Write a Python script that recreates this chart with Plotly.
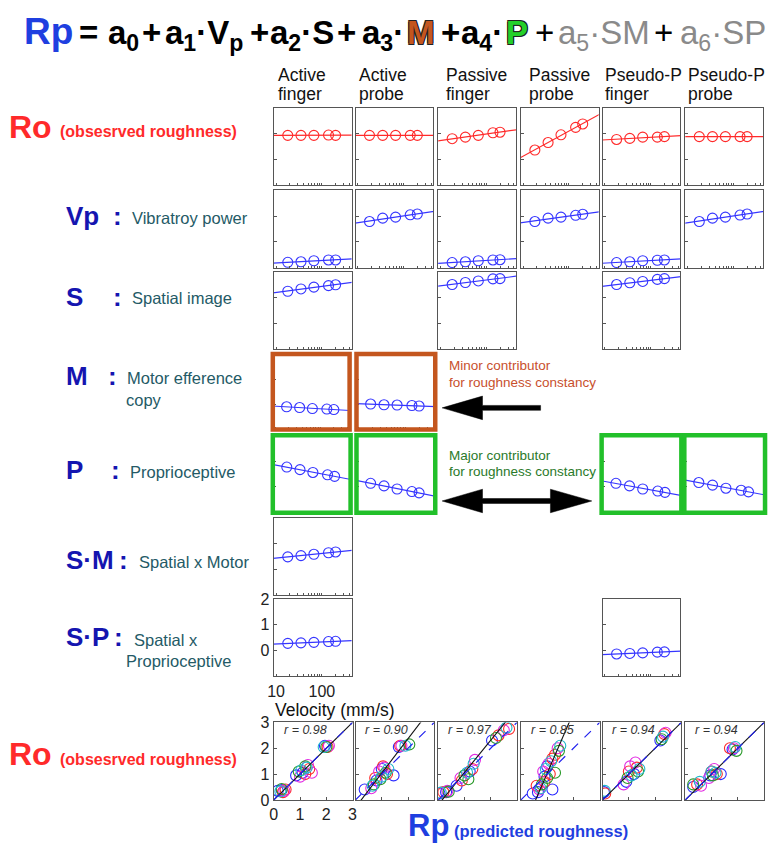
import plotly.graph_objects as go
import numpy as np

W, H = 773, 853
FONT = "Liberation Sans, Arial, sans-serif"

# ---------------- data ----------------
velocity = [18, 35, 67, 140, 200]          # mm/s
conditions_top = ["Active", "Active", "Passive", "Passive", "Pseudo-P", "Pseudo-P"]
conditions_bottom = ["finger", "probe", "finger", "probe", "finger", "probe"]

# observed roughness vs velocity (row "Ro")
ro_row = [
    [0.94, 0.94, 0.94, 0.95, 0.94],
    [0.94, 0.94, 0.94, 0.94, 0.94],
    [0.81, 0.87, 0.94, 1.04, 1.06],
    [0.37, 0.66, 0.96, 1.25, 1.38],
    [0.78, 0.82, 0.87, 0.87, 0.89],
    [0.89, 0.89, 0.89, 0.89, 0.89],
]
# regressors vs velocity (None = not in the model for that condition)
vp_row = [
    [-0.79, -0.77, -0.73, -0.70, -0.70],
    [0.79, 0.92, 0.96, 1.05, 1.08],
    [-0.80, -0.77, -0.73, -0.70, -0.69],
    [0.79, 0.92, 0.96, 1.03, 1.07],
    [-0.80, -0.77, -0.73, -0.71, -0.70],
    [0.79, 0.92, 0.96, 1.04, 1.08],
]
s_row = [[1.24, 1.33, 1.40, 1.46, 1.49], None, [1.50, 1.58, 1.64, 1.72, 1.73], None,
         [1.50, 1.57, 1.62, 1.70, 1.73], None]
m_row = [[-0.10, -0.13, -0.17, -0.19, -0.21], [0.01, -0.02, -0.03, -0.05, -0.07],
         None, None, None, None]
p_row = [[0.77, 0.67, 0.56, 0.47, 0.41], [0.14, 0.04, -0.08, -0.18, -0.23], None, None,
         [0.14, 0.04, -0.08, -0.16, -0.21], [0.17, 0.07, -0.05, -0.13, -0.19]]
sm_row = [[0.48, 0.53, 0.58, 0.64, 0.67], None, None, None, None, None]
sp_row = [[0.28, 0.30, 0.32, 0.35, 0.36], None, None, None,
          [-0.13, -0.11, -0.09, -0.06, -0.05], None]

# predicted (x) vs observed (y) roughness, by subject colour
scatter_active_finger = {
    "blue": ([0.15, 0.30, 0.85, 1.10, 1.95], [0.35, 0.38, 0.95, 1.05, 2.10]),
    "red": ([0.35, 0.45, 1.20, 1.35, 2.05], [0.30, 0.40, 1.00, 1.20, 2.05]),
    "magenta": ([0.40, 1.00, 1.30, 1.45, 2.10], [0.35, 0.90, 1.35, 1.05, 2.10]),
    "green": ([0.30, 0.95, 1.20, 2.00], [0.42, 1.10, 1.30, 2.05]),
    "cyan": ([0.25, 1.05, 1.25, 1.90], [0.33, 1.15, 1.25, 2.05]),
}
scatter_active_probe = {
    "blue": ([0.35, 0.80, 1.00, 1.45, 1.65], [0.40, 0.75, 1.20, 0.95, 2.05]),
    "red": ([0.75, 1.05, 1.20, 1.70], [0.85, 1.30, 1.00, 2.10]),
    "magenta": ([0.60, 0.90, 1.10, 1.75], [0.45, 1.10, 1.25, 2.10]),
    "green": ([0.70, 0.95, 1.15, 2.05], [0.60, 0.80, 1.05, 2.15]),
    "cyan": ([0.65, 1.00, 1.25, 1.90], [0.55, 0.90, 1.20, 2.10]),
}
scatter_passive_finger = {
    "blue": ([0.05, 0.30, 0.70, 1.20, 2.05], [0.25, 0.30, 0.55, 1.10, 2.30]),
    "red": ([0.20, 0.90, 1.30, 2.30, 2.70], [0.30, 0.75, 1.20, 2.50, 2.75]),
    "magenta": ([0.35, 0.85, 1.40, 2.50], [0.35, 0.85, 1.55, 2.70]),
    "green": ([0.40, 1.00, 1.15, 2.20], [0.32, 0.95, 0.80, 2.40]),
    "cyan": ([0.10, 1.10, 1.35, 2.60], [0.28, 1.05, 1.40, 2.80]),
}
scatter_passive_probe = {
    "blue": ([0.45, 0.65, 1.20, 0.90, 1.00], [0.25, 0.30, 0.40, 0.90, 1.30]),
    "red": ([0.60, 0.90, 1.10, 1.20, 1.30], [0.55, 0.70, 1.00, 1.60, 1.75]),
    "magenta": ([0.70, 0.85, 1.05, 1.40], [0.40, 1.10, 1.40, 2.00]),
    "green": ([0.80, 1.00, 1.30, 1.45], [0.60, 0.85, 1.05, 1.90]),
    "cyan": ([0.75, 0.95, 1.15, 1.50], [0.45, 1.20, 1.50, 2.10]),
}
scatter_pseudo_finger = {
    "blue": ([0.05, 0.90, 1.20, 2.20], [0.30, 0.70, 1.00, 2.30]),
    "red": ([0.10, 1.00, 1.30, 2.35], [0.25, 1.10, 1.25, 2.55]),
    "magenta": ([0.80, 1.05, 1.25, 2.40], [0.60, 1.30, 1.45, 2.60]),
    "green": ([0.95, 1.35, 2.25], [0.85, 1.10, 2.35]),
    "cyan": ([0.08, 1.10, 1.40, 2.30], [0.35, 0.95, 1.20, 2.45]),
}
scatter_pseudo_probe = {
    "blue": ([0.30, 0.95, 1.35, 1.80], [0.50, 0.95, 1.00, 1.95]),
    "red": ([0.45, 1.00, 1.20, 1.70], [0.60, 1.10, 1.00, 2.00]),
    "magenta": ([0.60, 0.90, 1.10, 1.85], [0.55, 0.85, 1.20, 2.00]),
    "green": ([0.30, 1.05, 1.95], [0.60, 0.95, 1.90]),
    "cyan": ([0.55, 1.15, 1.00, 1.90], [0.70, 1.05, 1.10, 2.05]),
}
scatter_sets = [scatter_active_finger, scatter_active_probe, scatter_passive_finger,
                scatter_passive_probe, scatter_pseudo_finger, scatter_pseudo_probe]
r_values = [0.98, 0.90, 0.97, 0.85, 0.94, 0.94]
fit_slope = [1.00, 1.33, 1.25, 2.35, 1.00, 1.00]
fit_intercept = [0.00, -0.29, -0.19, -1.32, 0.00, 0.00]

# ---------------- styling / layout ----------------
SUBJ_COL = {"blue": "#2a2aff", "red": "#ff2a2a", "magenta": "#e22ae2",
            "green": "#2a9a2a", "cyan": "#22b8cc"}
RED = "#ff2a2a"
BLUE = "#3535ff"
ORANGE = "#c4561e"
GREEN = "#22c02a"
FRAME = "#555555"

col_left = [271, 354, 438, 522, 605, 689]
PW = 79
row_top = {"ro": 102, "vp": 186, "s": 269, "m": 352, "p": 436, "sm": 520, "sp": 603, "sc": 729}

fig = go.Figure()
axis_n = [0]


def px(x):
    return x / W


def py(y):
    return 1 - y / H


def new_axes(x0, x1, y0, y1, xcfg, ycfg):
    axis_n[0] += 1
    n = axis_n[0]
    s = "" if n == 1 else str(n)
    fig.update_layout(**{
        "xaxis" + s: dict(domain=[px(x0), px(x1)], anchor="y" + s, **xcfg),
        "yaxis" + s: dict(domain=[py(y1), py(y0)], anchor="x" + s, **ycfg),
    })
    return "x" + s, "y" + s


LOGR = [0.95, 2.65]
major_vals = [10, 100]
minor_vals = [20, 30, 40, 50, 60, 70, 80, 90, 200, 300, 400]


def vel_panel(values, color, x0, x1, y0, y1, frame=True, labels=False):
    xcfg = dict(type="log", range=LOGR, showgrid=False, zeroline=False,
                showline=frame, linecolor=FRAME, linewidth=1.2, mirror=True,
                ticks="inside", ticklen=2, tickcolor=FRAME, tickvals=major_vals,
                ticktext=[str(v) for v in major_vals], tickangle=0,
                minor=dict(tickvals=minor_vals, ticks="inside", ticklen=2,
                           tickcolor=FRAME, showgrid=False),
                showticklabels=labels,
                tickfont=dict(size=16, color="#222", family=FONT))
    ycfg = dict(range=[-1, 2], showgrid=False, zeroline=False,
                showline=frame, linecolor=FRAME, linewidth=1.2, mirror=True,
                ticks="inside", ticklen=3, tickcolor=FRAME,
                tickvals=[0, 1, 2] if labels else [0, 1], showticklabels=labels,
                tickfont=dict(size=16, color="#222", family=FONT))
    xa, ya = new_axes(x0, x1, y0, y1, xcfg, ycfg)
    lv = np.log10(velocity)
    b, a = np.polyfit(lv, values, 1)
    xs = np.array([10 ** LOGR[0] * 0.9, 10 ** LOGR[1] * 1.1])
    fig.add_trace(go.Scatter(x=xs, y=a + b * np.log10(xs), mode="lines",
                             line=dict(color=color, width=1.2), xaxis=xa, yaxis=ya,
                             showlegend=False, hoverinfo="skip"))
    fig.add_trace(go.Scatter(x=velocity, y=values, mode="markers",
                             marker=dict(symbol="circle-open", size=10, color=color,
                                         line=dict(width=1.1)),
                             xaxis=xa, yaxis=ya, showlegend=False, cliponaxis=False))


# row Ro and plain regressor rows
for key, data, color in [("ro", ro_row, RED), ("vp", vp_row, BLUE), ("s", s_row, BLUE),
                         ("sm", sm_row, BLUE), ("sp", sp_row, BLUE)]:
    for c, vals in enumerate(data):
        if vals is None:
            continue
        t = row_top[key]
        vel_panel(vals, color, col_left[c], col_left[c] + PW, t, t + PW,
                  labels=(key == "sp" and c == 0))

# highlighted rows (thick coloured frames)
m_boxes = {0: (270, 348), 1: (355, 435)}
p_boxes = {0: (270, 349), 1: (355, 435), 4: (604, 685), 5: (688, 770)}
shapes = []
for c, vals in enumerate(m_row):
    if vals is None:
        continue
    x0, x1 = m_boxes[c]
    vel_panel(vals, BLUE, x0, x1, 353, 430, frame=False)
    shapes.append(dict(type="rect", xref="paper", yref="paper", x0=px(x0), x1=px(x1),
                       y0=py(430), y1=py(353), line=dict(color=ORANGE, width=4.5)))
for c, vals in enumerate(p_row):
    if vals is None:
        continue
    x0, x1 = p_boxes[c]
    vel_panel(vals, BLUE, x0, x1, 436, 515, frame=False)
    shapes.append(dict(type="rect", xref="paper", yref="paper", x0=px(x0), x1=px(x1),
                       y0=py(515), y1=py(436), line=dict(color=GREEN, width=4.5)))

# bottom scatter row
annotations = []
for c, sset in enumerate(scatter_sets):
    lab = (c == 0)
    x0 = col_left[c]
    t = row_top["sc"]
    cfg = dict(range=[0, 3], showgrid=False, zeroline=False, showline=True,
               linecolor=FRAME, linewidth=1.2, mirror=True, ticks="inside", ticklen=3,
               tickcolor=FRAME, tickvals=[0, 1, 2, 3], showticklabels=lab, tickangle=0,
               tickfont=dict(size=16, color="#222", family=FONT))
    xa, ya = new_axes(x0, x0 + PW + 1, t, t + 79, dict(cfg), dict(cfg))
    for name, (xs, ys) in sset.items():
        fig.add_trace(go.Scatter(x=xs, y=ys, mode="markers",
                                 marker=dict(symbol="circle-open", size=11,
                                             color=SUBJ_COL[name], line=dict(width=1.1)),
                                 xaxis=xa, yaxis=ya, showlegend=False))
    lx = np.array([-1.0, 4.0])
    fig.add_trace(go.Scatter(x=lx, y=fit_intercept[c] + fit_slope[c] * lx, mode="lines",
                             line=dict(color="#111", width=1.1), xaxis=xa, yaxis=ya,
                             showlegend=False, hoverinfo="skip"))
    fig.add_trace(go.Scatter(x=lx, y=lx, mode="lines",
                             line=dict(color="#2020ee", width=1.2, dash="dash"),
                             xaxis=xa, yaxis=ya, showlegend=False, hoverinfo="skip"))
    annotations.append(dict(text="<i>r = %.2f</i>" % r_values[c], xref="paper", yref="paper",
                            x=px(x0 + 8), y=py(737), xanchor="left", yanchor="middle",
                            showarrow=False, font=dict(size=12.5, color="#333", family=FONT)))


# ---------------- texts ----------------
def txt(s, x, y, size, color, anchor="left", bold=False, yanchor="middle", **kw):
    annotations.append(dict(text=("<b>%s</b>" % s) if bold else s, xref="paper", yref="paper",
                            x=px(x), y=py(y), xanchor=anchor, yanchor=yanchor,
                            showarrow=False, font=dict(size=size, color=color, family=FONT, **kw)))


# equation (top-anchored so sub-scripts don't shift the baseline)
EQ = 33
EQY = 4
OUTL = "-1px -1px 0 #222, 1px -1px 0 #222, -1px 1px 0 #222, 1px 1px 0 #222"
txt("Rp", 42, EQY - 3, 37, "#1f3fe0", "center", True, "top")
eq_tokens = [
    ("=", 83, "#000", True, None),
    ("a<sub>0</sub>", 118, "#000", True, None),
    ("+", 147, "#000", True, None),
    ("a<sub>1</sub>·V<sub>p</sub>", 200, "#000", True, None),
    ("+", 256, "#000", True, None),
    ("a<sub>2</sub>·S", 300, "#000", True, None),
    ("+", 345, "#000", True, None),
    ("a<sub>3</sub>·", 382, "#000", True, None),
    ("M", 421, ORANGE, True, OUTL),
    ("+", 450, "#000", True, None),
    ("a<sub>4</sub>·", 482, "#000", True, None),
    ("P", 518, "#22d02a", True, OUTL),
    ("+", 546, "#000", False, None),
    ("a<sub>5</sub>·SM", 606, "#8a8a8a", False, None),
    ("+", 667, "#000", False, None),
    ("a<sub>6</sub>·SP", 727, "#8a8a8a", False, None),
]
for s, cx, colr, bld, sh in eq_tokens:
    if sh:
        txt(s, cx, EQY, EQ, colr, "center", bld, "top", shadow=sh)
    else:
        txt(s, cx, EQY, EQ, colr, "center", bld, "top")

# column headers
hdr_x = [273, 356, 444, 528, 605, 690]
for c in range(6):
    txt(conditions_top[c], hdr_x[c], 68.5, 17.5, "#111")
    txt(conditions_bottom[c], hdr_x[c], 88, 17.5, "#111")

# row labels
DB = "#1515b0"
TEAL = "#245a66"
txt("Ro", 0, 121, 32, RED, bold=True)
txt("(obsesrved roughness)", 52, 126, 16, RED, bold=True)
rows_lab = [("Vp", 212, 112, "Vibratroy power", 125, 214),
            ("S", 295, 112, "Spatial image", 125, 296),
            ("M", 375, 107, "Motor efference", 120, 378),
            ("P", 471, 110, "Proprioceptive", 123, 473),
            ("S·M", 563, 118, "Spatial x Motor", 132, 565),
            ("S·P", 642, 113, "Spatial x", 127, 645)]
for sym, yy, colx, desc, dx, dy in rows_lab:
    txt(sym, 58, yy, 26, DB, bold=True)
    txt(":", colx, yy, 26, DB, "center", True)
    txt(desc, dx, dy, 16.5, TEAL)
txt("copy", 119, 400, 16.5, TEAL)
txt("Proprioceptive", 119, 666, 16.5, TEAL)
txt("Ro", 0, 761, 32, RED, bold=True)
txt("(obsesrved roughness)", 52, 767, 16, RED, bold=True)
txt("Rp", 405, 834, 31, "#1f3fe0", bold=True)
txt("(predicted roughness)", 452, 840, 16.5, "#1f3fe0", bold=True)
txt("Velocity (mm/s)", 270, 716, 17.5, "#111")

txt("Minor contributor", 447, 365, 13.5, "#c8502d")
txt("for roughness constancy", 447, 382, 13.5, "#c8502d")
txt("Major contributor", 447, 457, 13.5, "#2a7a2a")
txt("for roughness constancy", 447, 473, 13.5, "#2a7a2a")


def poly(pts):
    d = "M " + " L ".join("%.5f %.5f" % (px(x), py(y)) for x, y in pts) + " Z"
    return dict(type="path", xref="paper", yref="paper", path=d,
                fillcolor="#000", line=dict(color="#000", width=0.5))


shapes.append(poly([(442, 408), (483, 396), (483, 405.5), (542, 405.5), (542, 410.5),
                    (483, 410.5), (483, 420)]))
shapes.append(poly([(442, 503), (483, 491), (483, 500.5), (552, 500.5), (552, 491),
                    (594, 503), (552, 515), (552, 505.5), (483, 505.5), (483, 515)]))

fig.update_layout(width=W, height=H, margin=dict(l=0, r=0, t=0, b=0),
                  paper_bgcolor="white", plot_bgcolor="white",
                  font=dict(family=FONT), annotations=annotations, shapes=shapes,
                  showlegend=False)
fig.write_html("out.html", config={"displayModeBar": False},
               post_script="document.body.style.margin='0';document.body.style.overflow='hidden';")
